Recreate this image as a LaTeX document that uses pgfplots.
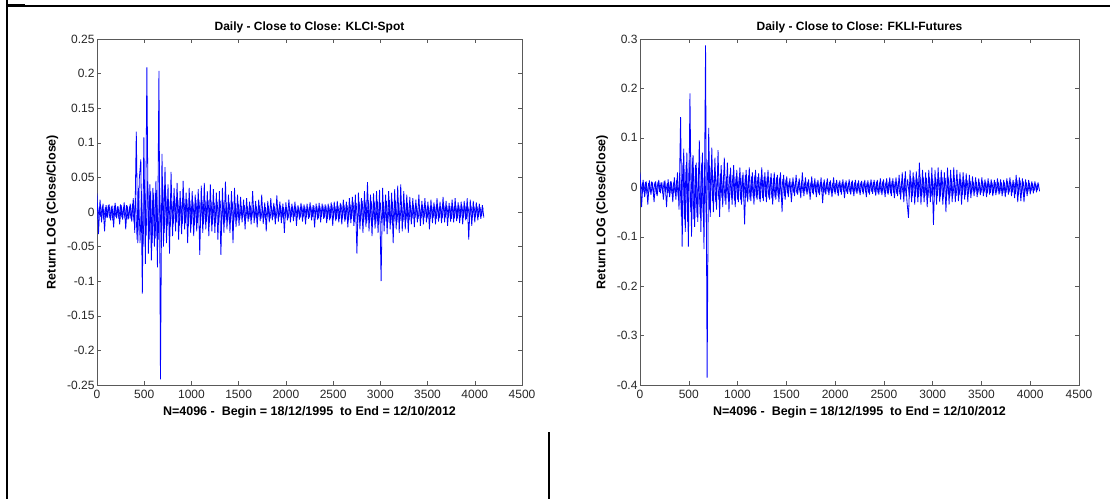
\documentclass[border=0pt]{standalone}
\usepackage{pgfplots}
\usepackage{pgfplotstable}
\pgfplotsset{compat=1.18}
\usepackage{fontspec}
\setmainfont{Liberation Sans}

\pgfplotstableread[row sep=\\, header=false]{
0.027\\ -0.032\\ 0.018\\ -0.015\\ 0.012\\ -0.028\\ 0.010\\ -0.008\\ 0.011\\ -0.012\\
0.009\\ -0.022\\ 0.013\\ -0.009\\ 0.008\\ -0.018\\ 0.010\\ -0.011\\ 0.014\\ -0.025\\
0.009\\ -0.010\\ 0.012\\ -0.014\\ 0.020\\ -0.030\\ 0.116\\ -0.045\\ 0.048\\ 0.076\\
-0.118\\ 0.108\\ -0.075\\ 0.209\\ -0.060\\ 0.040\\ -0.070\\ 0.035\\ -0.050\\ 0.045\\
-0.080\\ 0.204\\ -0.242\\ 0.084\\ -0.050\\ 0.065\\ -0.045\\ 0.040\\ -0.060\\ 0.058\\
-0.035\\ 0.035\\ -0.028\\ 0.042\\ -0.040\\ 0.030\\ -0.032\\ 0.045\\ -0.025\\ 0.028\\
-0.045\\ 0.035\\ -0.030\\ 0.030\\ -0.035\\ 0.025\\ -0.028\\ 0.033\\ -0.062\\ 0.038\\
-0.030\\ 0.042\\ -0.025\\ 0.030\\ -0.035\\ 0.040\\ -0.028\\ 0.033\\ -0.030\\ 0.028\\
-0.040\\ 0.030\\ -0.062\\ 0.035\\ -0.030\\ 0.044\\ -0.025\\ 0.025\\ -0.030\\ 0.030\\
-0.045\\ 0.035\\ -0.022\\ 0.025\\ -0.020\\ 0.022\\ -0.015\\ 0.018\\ -0.025\\ 0.020\\
-0.014\\ 0.015\\ -0.018\\ 0.030\\ -0.016\\ 0.016\\ -0.022\\ 0.018\\ -0.013\\ 0.025\\
-0.017\\ 0.014\\ -0.028\\ 0.016\\ -0.015\\ 0.020\\ -0.012\\ 0.013\\ -0.018\\ 0.024\\
-0.014\\ 0.015\\ -0.016\\ 0.012\\ -0.030\\ 0.014\\ -0.012\\ 0.018\\ -0.015\\ 0.012\\
-0.013\\ 0.015\\ -0.020\\ 0.010\\ -0.011\\ 0.013\\ -0.014\\ 0.011\\ -0.018\\ 0.012\\
-0.010\\ 0.014\\ -0.012\\ 0.010\\ -0.022\\ 0.012\\ -0.011\\ 0.013\\ -0.015\\ 0.012\\
-0.010\\ 0.011\\ -0.016\\ 0.012\\ -0.012\\ 0.014\\ -0.020\\ 0.015\\ -0.013\\ 0.016\\
-0.015\\ 0.013\\ -0.018\\ 0.018\\ -0.014\\ 0.015\\ -0.022\\ 0.020\\ -0.016\\ 0.022\\
-0.020\\ 0.025\\ -0.060\\ 0.028\\ -0.025\\ 0.020\\ -0.030\\ 0.030\\ -0.022\\ 0.043\\
-0.028\\ 0.025\\ -0.035\\ 0.027\\ -0.024\\ 0.030\\ -0.030\\ 0.032\\ -0.100\\ 0.035\\
-0.028\\ 0.025\\ -0.032\\ 0.030\\ -0.025\\ 0.028\\ -0.045\\ 0.033\\ -0.025\\ 0.038\\
-0.030\\ 0.040\\ -0.028\\ 0.030\\ -0.025\\ 0.025\\ -0.030\\ 0.022\\ -0.018\\ 0.020\\
-0.022\\ 0.018\\ -0.015\\ 0.025\\ -0.020\\ 0.016\\ -0.018\\ 0.020\\ -0.015\\ 0.015\\
-0.025\\ 0.018\\ -0.016\\ 0.014\\ -0.018\\ 0.020\\ -0.014\\ 0.015\\ -0.016\\ 0.022\\
-0.015\\ 0.016\\ -0.020\\ 0.013\\ -0.014\\ 0.018\\ -0.015\\ 0.020\\ -0.013\\ 0.014\\
-0.016\\ 0.015\\ -0.018\\ 0.016\\ -0.012\\ 0.020\\ -0.040\\ 0.018\\ -0.020\\ 0.016\\
-0.015\\ 0.014\\ -0.012\\ 0.012\\ -0.010\\ 0.010\\ -0.008\\
}\klci

% in-between observations (x = 8 + 16k): the dense core of the band
\pgfplotstableread[row sep=\\, header=false]{
-0.010\\ 0.008\\ -0.007\\ 0.009\\ -0.011\\ 0.007\\ -0.008\\ 0.010\\ -0.009\\ 0.008\\
-0.012\\ 0.009\\ -0.007\\ 0.008\\ -0.010\\ 0.011\\ -0.008\\ 0.007\\ -0.009\\ 0.010\\
-0.011\\ 0.008\\ -0.010\\ 0.012\\ -0.015\\ 0.020\\
-0.040\\ 0.035\\ -0.045\\ 0.030\\ -0.050\\ 0.040\\ -0.035\\ 0.045\\ -0.040\\ 0.030\\
-0.045\\ 0.028\\ -0.038\\ 0.032\\ -0.040\\ 0.035\\ -0.050\\ 0.040\\ -0.030\\ 0.028\\
-0.020\\ 0.018\\ -0.022\\ 0.016\\ -0.018\\ 0.020\\ -0.015\\ 0.018\\ -0.020\\ 0.015\\
-0.017\\ 0.019\\ -0.016\\ 0.018\\ -0.020\\ 0.016\\ -0.018\\ 0.015\\ -0.019\\ 0.017\\
-0.016\\ 0.018\\ -0.015\\ 0.017\\ -0.018\\ 0.016\\ -0.014\\ 0.017\\ -0.016\\ 0.015\\
-0.018\\ 0.014\\ -0.016\\ 0.015\\ -0.014\\ 0.016\\ -0.015\\ 0.014\\ -0.016\\ 0.013\\
-0.015\\ 0.014\\ -0.013\\ 0.015\\ -0.014\\ 0.012\\ -0.013\\ 0.012\\
-0.010\\ 0.009\\ -0.008\\ 0.010\\ -0.009\\ 0.008\\ -0.010\\ 0.009\\ -0.008\\ 0.010\\
-0.009\\ 0.008\\ -0.007\\ 0.009\\ -0.010\\ 0.008\\ -0.009\\ 0.007\\ -0.008\\ 0.009\\
-0.010\\ 0.008\\ -0.007\\ 0.008\\ -0.009\\ 0.008\\ -0.007\\ 0.009\\ -0.008\\ 0.007\\
-0.008\\ 0.007\\ -0.009\\ 0.008\\ -0.007\\ 0.008\\ -0.007\\ 0.008\\ -0.008\\ 0.007\\
-0.008\\ 0.009\\ -0.007\\ 0.008\\ -0.008\\ 0.007\\ -0.008\\ 0.008\\ -0.007\\ 0.009\\
-0.008\\ 0.008\\ -0.009\\ 0.008\\ -0.007\\ 0.009\\ -0.008\\ 0.009\\ -0.010\\ 0.008\\
-0.009\\ 0.010\\ -0.009\\ 0.008\\ -0.010\\ 0.009\\ -0.010\\ 0.011\\ -0.009\\ 0.010\\
-0.011\\ 0.010\\ -0.012\\ 0.011\\ -0.010\\
0.014\\ -0.015\\ 0.013\\ -0.016\\ 0.015\\ -0.014\\ 0.016\\ -0.015\\ 0.014\\ -0.016\\
0.017\\ -0.015\\ 0.016\\ -0.014\\ 0.015\\ -0.017\\ 0.016\\ -0.015\\ 0.014\\ -0.016\\
0.015\\ -0.014\\ 0.016\\ -0.015\\ 0.017\\ -0.016\\ 0.015\\ -0.014\\ 0.016\\ -0.015\\
0.014\\ -0.013\\ 0.015\\ -0.014\\ 0.013\\ -0.012\\ 0.013\\ -0.012\\
0.010\\ -0.009\\ 0.010\\ -0.008\\ 0.009\\ -0.010\\ 0.008\\ -0.009\\ 0.010\\ -0.008\\
0.009\\ -0.009\\ 0.008\\ -0.010\\ 0.009\\ -0.008\\ 0.009\\ -0.010\\ 0.008\\ -0.009\\
0.008\\ -0.009\\ 0.010\\ -0.008\\ 0.009\\ -0.008\\ 0.009\\ -0.010\\ 0.008\\ -0.009\\
0.008\\ -0.009\\ 0.009\\ -0.008\\ 0.009\\ -0.008\\ 0.009\\ -0.010\\ 0.008\\ -0.008\\
0.009\\ -0.008\\ 0.008\\ -0.007\\ 0.008\\ -0.007\\ 0.007\\ -0.006\\ 0.006\\
}\klcicore

\pgfplotstableread[row sep=\\, header=false]{
0.030\\ -0.040\\ 0.015\\ -0.020\\ 0.012\\ -0.035\\ 0.014\\ -0.015\\ 0.010\\ -0.030\\
0.012\\ -0.018\\ 0.015\\ -0.012\\ 0.010\\ -0.025\\ 0.014\\ -0.040\\ 0.016\\ -0.020\\
0.012\\ -0.030\\ 0.020\\ -0.025\\ 0.030\\ -0.045\\ 0.142\\ -0.120\\ 0.078\\ -0.090\\
0.070\\ -0.120\\ 0.190\\ -0.100\\ 0.065\\ -0.080\\ 0.050\\ -0.070\\ 0.095\\ -0.090\\
0.070\\ -0.125\\ 0.287\\ -0.385\\ 0.120\\ -0.060\\ 0.080\\ -0.050\\ 0.060\\ -0.045\\
0.075\\ -0.060\\ 0.045\\ -0.040\\ 0.060\\ -0.035\\ 0.050\\ -0.050\\ 0.040\\ -0.035\\
0.045\\ -0.040\\ 0.035\\ -0.030\\ 0.040\\ -0.035\\ 0.030\\ -0.075\\ 0.035\\ -0.030\\
0.040\\ -0.028\\ 0.030\\ -0.035\\ 0.035\\ -0.025\\ 0.028\\ -0.030\\ 0.040\\ -0.028\\
0.030\\ -0.030\\ 0.035\\ -0.025\\ 0.028\\ -0.035\\ 0.030\\ -0.025\\ 0.025\\ -0.030\\
0.030\\ -0.050\\ 0.025\\ -0.025\\ 0.022\\ -0.020\\ 0.018\\ -0.030\\ 0.020\\ -0.018\\
0.025\\ -0.015\\ 0.018\\ -0.022\\ 0.030\\ -0.018\\ 0.020\\ -0.015\\ 0.016\\ -0.025\\
0.022\\ -0.015\\ 0.018\\ -0.020\\ 0.015\\ -0.016\\ 0.020\\ -0.032\\ 0.016\\ -0.015\\
0.018\\ -0.016\\ 0.014\\ -0.020\\ 0.020\\ -0.014\\ 0.015\\ -0.018\\ 0.014\\ -0.015\\
0.016\\ -0.022\\ 0.014\\ -0.013\\ 0.016\\ -0.015\\ 0.014\\ -0.018\\ 0.015\\ -0.013\\
0.014\\ -0.016\\ 0.013\\ -0.014\\ 0.015\\ -0.020\\ 0.014\\ -0.015\\ 0.016\\ -0.013\\
0.015\\ -0.017\\ 0.015\\ -0.015\\ 0.018\\ -0.016\\ 0.016\\ -0.020\\ 0.018\\ -0.015\\
0.020\\ -0.018\\ 0.018\\ -0.022\\ 0.020\\ -0.018\\ 0.025\\ -0.025\\ 0.030\\ -0.030\\
0.032\\ -0.028\\ -0.062\\ 0.035\\ -0.030\\ 0.030\\ -0.035\\ 0.032\\ -0.030\\ 0.050\\
-0.035\\ 0.035\\ -0.030\\ 0.030\\ -0.040\\ 0.035\\ -0.030\\ 0.040\\ -0.076\\ 0.035\\
-0.035\\ 0.040\\ -0.030\\ 0.035\\ -0.035\\ 0.030\\ -0.050\\ 0.040\\ -0.035\\ 0.035\\
-0.030\\ 0.040\\ -0.030\\ 0.035\\ -0.028\\ 0.030\\ -0.035\\ 0.030\\ -0.025\\ 0.028\\
-0.030\\ 0.025\\ -0.022\\ 0.022\\ -0.018\\ 0.020\\ -0.020\\ 0.018\\ -0.016\\ 0.020\\
-0.018\\ 0.016\\ -0.020\\ 0.018\\ -0.015\\ 0.016\\ -0.018\\ 0.015\\ -0.016\\ 0.018\\
-0.015\\ 0.016\\ -0.018\\ 0.015\\ -0.020\\ 0.018\\ -0.015\\ 0.020\\ -0.018\\ 0.015\\
-0.022\\ 0.025\\ -0.030\\ 0.020\\ -0.028\\ 0.018\\ -0.030\\ 0.016\\ -0.018\\ 0.015\\
-0.014\\ 0.012\\ -0.012\\ 0.012\\ -0.010\\ 0.010\\ -0.008\\
}\fkli

\pgfplotstableread[row sep=\\, header=false]{
-0.012\\ 0.010\\ -0.009\\ 0.011\\ -0.013\\ 0.009\\ -0.010\\ 0.012\\ -0.011\\ 0.010\\
-0.014\\ 0.011\\ -0.009\\ 0.010\\ -0.012\\ 0.013\\ -0.010\\ 0.009\\ -0.011\\ 0.012\\
-0.013\\ 0.010\\ -0.012\\ 0.015\\ -0.020\\ 0.025\\
-0.060\\ 0.050\\ -0.065\\ 0.045\\ -0.070\\ 0.055\\ -0.050\\ 0.060\\ -0.065\\ 0.045\\
-0.060\\ 0.040\\ -0.055\\ 0.050\\ -0.060\\ 0.050\\ -0.070\\ 0.055\\ -0.045\\ 0.040\\
-0.028\\ 0.025\\ -0.030\\ 0.022\\ -0.025\\ 0.028\\ -0.022\\ 0.025\\ -0.028\\ 0.022\\
-0.024\\ 0.026\\ -0.022\\ 0.025\\ -0.027\\ 0.022\\ -0.025\\ 0.021\\ -0.026\\ 0.024\\
-0.022\\ 0.025\\ -0.021\\ 0.024\\ -0.025\\ 0.022\\ -0.020\\ 0.024\\ -0.022\\ 0.021\\
-0.024\\ 0.020\\ -0.022\\ 0.021\\ -0.020\\ 0.022\\ -0.021\\ 0.020\\ -0.022\\ 0.019\\
-0.021\\ 0.020\\ -0.018\\ 0.020\\ -0.019\\ 0.017\\ -0.018\\ 0.016\\
-0.012\\ 0.011\\ -0.010\\ 0.012\\ -0.011\\ 0.010\\ -0.012\\ 0.011\\ -0.010\\ 0.012\\
-0.011\\ 0.010\\ -0.009\\ 0.011\\ -0.012\\ 0.010\\ -0.011\\ 0.009\\ -0.010\\ 0.011\\
-0.012\\ 0.010\\ -0.009\\ 0.010\\ -0.011\\ 0.010\\ -0.009\\ 0.011\\ -0.010\\ 0.009\\
-0.010\\ 0.009\\ -0.011\\ 0.010\\ -0.009\\ 0.010\\ -0.009\\ 0.010\\ -0.010\\ 0.009\\
-0.010\\ 0.011\\ -0.009\\ 0.010\\ -0.010\\ 0.009\\ -0.010\\ 0.010\\ -0.009\\ 0.011\\
-0.010\\ 0.010\\ -0.011\\ 0.010\\ -0.009\\ 0.011\\ -0.010\\ 0.011\\ -0.012\\ 0.010\\
-0.011\\ 0.012\\ -0.011\\ 0.010\\ -0.012\\ 0.011\\ -0.012\\ 0.013\\ -0.011\\ 0.012\\
-0.013\\ 0.012\\ -0.014\\ 0.013\\ -0.012\\
0.018\\ -0.019\\ 0.017\\ -0.020\\ 0.019\\ -0.018\\ 0.020\\ -0.019\\ 0.018\\ -0.020\\
0.021\\ -0.019\\ 0.020\\ -0.018\\ 0.019\\ -0.021\\ 0.020\\ -0.019\\ 0.018\\ -0.020\\
0.019\\ -0.018\\ 0.020\\ -0.019\\ 0.021\\ -0.020\\ 0.019\\ -0.018\\ 0.020\\ -0.019\\
0.018\\ -0.017\\ 0.019\\ -0.018\\ 0.017\\ -0.016\\ 0.017\\ -0.016\\ 0.015\\ -0.016\\
0.015\\ -0.014\\ 0.013\\ -0.012\\
0.011\\ -0.010\\ 0.011\\ -0.012\\ 0.010\\ -0.011\\ 0.012\\ -0.010\\ 0.011\\ -0.012\\
0.010\\ -0.011\\ 0.010\\ -0.012\\ 0.011\\ -0.010\\ 0.011\\ -0.012\\ 0.010\\ -0.011\\
0.010\\ -0.011\\ 0.012\\ -0.010\\ 0.011\\ -0.010\\ 0.011\\ -0.013\\ 0.015\\ -0.016\\
0.014\\ -0.015\\ 0.012\\ -0.011\\ 0.010\\ -0.009\\ 0.009\\ -0.008\\ 0.008\\ -0.007\\
0.007\\ -0.006\\ 0.006\\
}\fklicore

\pgfplotsset{
  mlab/.style={
    scale only axis,
    height=346pt,
    xmin=0, xmax=4500,
    xtick={0,500,...,4500},
    xticklabels={0,500,1000,1500,2000,2500,3000,3500,4000,4500},
    tick align=inside,
    major tick length=4pt,
    axis line style={black!65},
    every tick/.style={black!65},
    tick label style={font=\fontsize{12}{13}\selectfont, text=black!85},
    xticklabel style={yshift=-2pt},
    yticklabel style={xshift=1pt},
    title style={font=\fontsize{12}{13}\selectfont\bfseries, yshift=-4pt},
    xlabel style={font=\fontsize{12.5}{14}\selectfont\bfseries, yshift=-1pt},
    ylabel style={font=\fontsize{12.5}{14}\selectfont\bfseries, yshift=2pt},
    xlabel={N=4096 -\ \ Begin = 18/12/1995\ \ to End = 12/10/2012},
    ylabel={Return LOG (Close/Close)},
    clip=true,
  },
  series/.style={blue, line width=0.8pt, no marks, line join=bevel},
  core/.style={blue, line width=0.7pt, no marks, line join=bevel},
}

\begin{document}
\begin{tikzpicture}[x=1pt,y=1pt]
\useasboundingbox (0,0) rectangle (1110,499);
% frame pieces of the screenshot
\draw[line width=2pt] (7,499) -- (7,0);
\draw[line width=2pt] (6,492.5) -- (1110,492.5);
\draw[line width=3pt] (6,493) -- (25,493);
\draw[line width=2pt] (549,67) -- (549,0);

\begin{axis}[mlab,
  at={(97pt,114pt)}, anchor=south west,
  width=425pt,
  ymin=-0.25, ymax=0.25,
  ytick={-0.25,-0.2,-0.15,-0.1,-0.05,0,0.05,0.1,0.15,0.2,0.25},
  yticklabels={-0.25,-0.2,-0.15,-0.1,-0.05,0,0.05,0.1,0.15,0.2,0.25},
  title={Daily - Close to Close: KLCI-Spot},
]
\addplot[core] table[x expr=8+\coordindex*16, y index=0] {\klcicore};
\addplot[series] table[x expr=\coordindex*16, y index=0] {\klci};
\end{axis}

\begin{axis}[mlab,
  at={(640pt,114pt)}, anchor=south west,
  width=439pt,
  ymin=-0.4, ymax=0.3,
  ytick={-0.4,-0.3,-0.2,-0.1,0,0.1,0.2,0.3},
  yticklabels={-0.4,-0.3,-0.2,-0.1,0,0.1,0.2,0.3},
  title={Daily - Close to Close: FKLI-Futures},
]
\addplot[core] table[x expr=8+\coordindex*16, y index=0] {\fklicore};
\addplot[series] table[x expr=\coordindex*16, y index=0] {\fkli};
\end{axis}
\end{tikzpicture}
\end{document}
